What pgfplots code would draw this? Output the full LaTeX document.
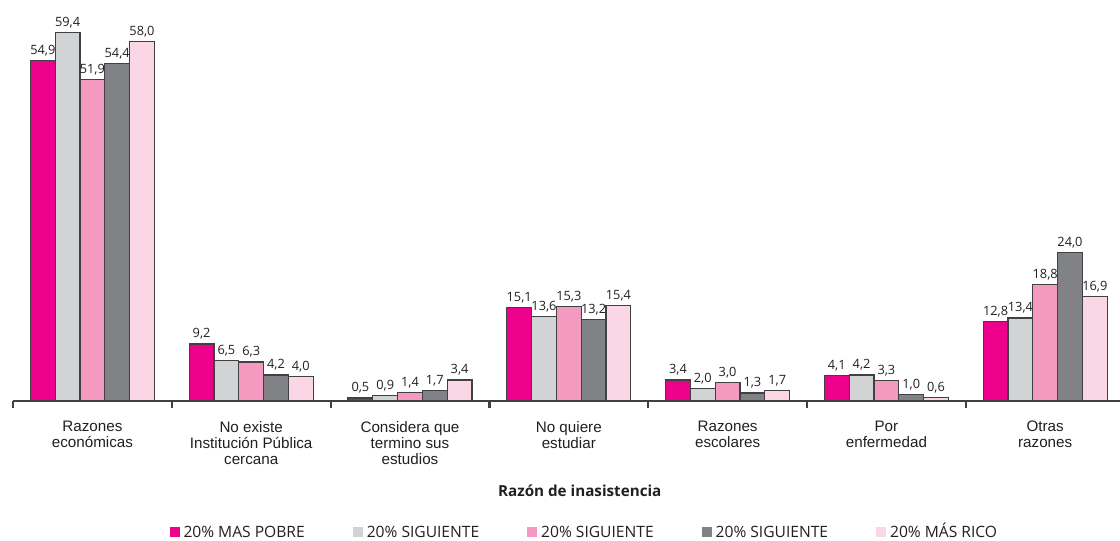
\documentclass[border=0pt]{standalone}
\usepackage{fontspec}
\setmainfont{Liberation Sans}
\newfontfamily\frut{Open Sans}
\usepackage{pgfplots}
\pgfplotsset{compat=1.18}

\definecolor{qPobre}{RGB}{236,0,140}
\definecolor{qDos}{RGB}{209,211,212}
\definecolor{qTres}{RGB}{244,154,193}
\definecolor{qCuatro}{RGB}{128,130,133}
\definecolor{qRico}{RGB}{251,215,230}
\definecolor{borde}{RGB}{65,64,66}
\definecolor{texto}{RGB}{35,31,32}

\pgfplotsset{
  barra/.style={fill=#1, draw=borde, line width=0.6pt}
}

\begin{document}
\begin{tikzpicture}
\begin{axis}[
  name=ax,
  at={(0,0)}, anchor=south west,
  scale only axis,
  width=553.5pt, height=200.5pt,
  ybar=0pt, bar width=12.4pt,
  xmin=-0.5, xmax=6.471,
  ymin=0, ymax=64.7,
  hide y axis,
  axis x line*=bottom,
  x axis line style={line width=1pt, color=borde},
  xtick={0,1,2,3,4,5,6},
  major tick length=0pt,
  minor xtick={-0.5,0.5,1.5,2.5,3.5,4.5,5.5},
  minor tick length=3.5pt,
  tick align=outside,
  minor tick style={line width=1.1pt, color=borde},
  xticklabels={{Razones\\económicas},{No existe\\Institución Pública\\cercana},{Considera que\\termino sus\\estudios},{No quiere\\estudiar},{Razones\\escolares},{Por\\enfermedad},{Otras\\razones}},
  xticklabel style={align=center, font=\fontsize{7.6}{8}\selectfont, text=texto, yshift=-6.5pt},
  xlabel={\frut\bfseries Razón de inasistencia},
  xlabel style={at={(axis description cs:0.512,-0.224)}, anchor=center, font=\fontsize{7.6}{8}\selectfont, text=texto},
  nodes near coords={\pgfmathprintnumber[fixed,fixed zerofill,precision=1,use comma,assume math mode=true]{\pgfplotspointmeta}},
  nodes near coords style={font=\frut\fontsize{6.4}{7}\selectfont, text=texto, anchor=base, yshift=3pt, inner sep=0pt},
  legend columns=5,
  legend style={
    draw=none, fill=none,
    at={(axis description cs:0.517,-0.328)}, anchor=center,
    font=\frut\fontsize{7.8}{9}\selectfont, text=texto,
    nodes={text height=5.8pt, text depth=0.5pt},
    /tikz/every even column/.append style={column sep=22pt}
  },
  legend image code/.code={\path[#1, draw=none] (-2pt,-2.3pt) rectangle (3pt,2.7pt);},
  clip=false
]
\addplot[barra=qPobre] coordinates {(0,54.9) (1,9.2) (2,0.5) (3,15.1) (4,3.4) (5,4.1) (6,12.8)};
\addlegendentry{20\% MAS POBRE}
\addplot[barra=qDos] coordinates {(0,59.4) (1,6.5) (2,0.9) (3,13.6) (4,2.0) (5,4.2) (6,13.4)};
\addlegendentry{20\% SIGUIENTE}
\addplot[barra=qTres] coordinates {(0,51.9) (1,6.3) (2,1.4) (3,15.3) (4,3.0) (5,3.3) (6,18.8)};
\addlegendentry{20\% SIGUIENTE}
\addplot[barra=qCuatro] coordinates {(0,54.4) (1,4.2) (2,1.7) (3,13.2) (4,1.3) (5,1.0) (6,24.0)};
\addlegendentry{20\% SIGUIENTE}
\addplot[barra=qRico] coordinates {(0,58.0) (1,4.0) (2,3.4) (3,15.4) (4,1.7) (5,0.6) (6,16.9)};
\addlegendentry{20\% MÁS RICO}
\end{axis}
\pgfresetboundingbox
\useasboundingbox ([xshift=-6.5pt,yshift=-70pt]ax.south west) rectangle ([xshift=553.5pt,yshift=200.5pt]ax.south west);
\end{tikzpicture}
\end{document}
